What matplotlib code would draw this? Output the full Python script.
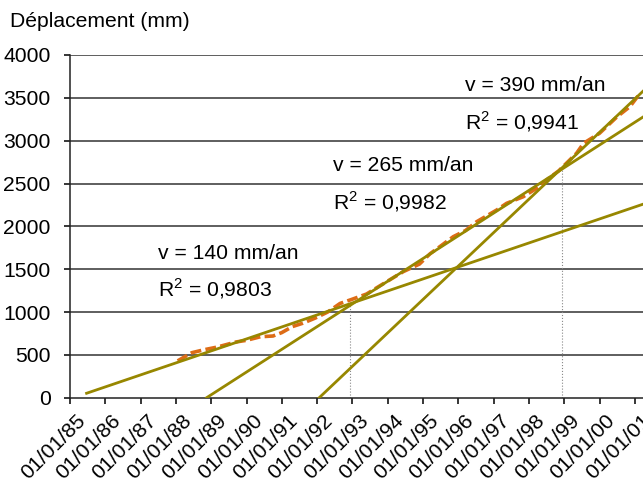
import matplotlib
matplotlib.use("Agg")
import matplotlib.pyplot as plt
import matplotlib.transforms as mtransforms
import numpy as np

plt.rcParams['font.family'] = ['Liberation Sans', 'DejaVu Sans']
plt.rcParams['mathtext.fontset'] = 'custom'
plt.rcParams['mathtext.rm'] = 'Liberation Sans'

# measured displacement (time in decimal years, displacement in mm)
measureTime = [1988.05, 1988.45, 1988.8, 1989.16, 1989.7, 1990.0, 1990.4, 1990.75, 1991.0,
               1991.3, 1991.6, 1991.95, 1992.3, 1992.65, 1993.0, 1993.4, 1993.97, 1994.44,
               1994.9, 1995.2, 1995.5, 1995.86, 1996.2, 1996.52, 1997.09, 1997.37, 1997.84,
               1998.22, 1998.5, 1998.85, 1999.35, 1999.55, 2000.0, 2000.5, 2000.86, 2001.15]
measureDisp = [430, 525, 560, 590, 650, 670, 712, 720, 760,
               830, 870, 930, 1000, 1100, 1150, 1210, 1354, 1471,
               1560, 1680, 1770, 1880, 1950, 2054, 2191, 2269, 2346,
               2444, 2541, 2650, 2853, 2970, 3086, 3280, 3397, 3553]

# linear fits: velocity (mm/an), time where fit crosses 0, start and end of drawn segment
fitSpeed = [140, 265, 390]
fitZero = [1985.1, 1988.87, 1992.06]
fitStart = [1985.47, 1988.87, 1992.06]
fitEnd = [2001.3, 2001.3, 2001.3]
fitLabels = ['v = 140 mm/an', 'v = 265 mm/an', 'v = 390 mm/an']
fitR2 = ['0,9803', '0,9982', '0,9941']
labelTime = [1987.48, 1992.46, 1996.19]
labelDisp = [1615, 2650, 3584]
r2Disp = [1179, 2203, 3133]

# breaks in slope
breakTime = [1992.94, 1998.93]
breakDisp = [1090, 2660]

years = list(range(1985, 2002))
yearLabels = ['01/01/%02d' % (y % 100) for y in years]
dispTicks = [0, 500, 1000, 1500, 2000, 2500, 3000, 3500, 4000]

fitColor = '#978700'
dataColor = '#dd6c16'
fs = 15.2

fig = plt.figure(figsize=(6.43, 4.83), dpi=100)
ax = fig.add_axes([70 / 643, 1 - 397.7 / 483, 1 - 70 / 643, (397.7 - 55) / 483])

for d in dispTicks[1:]:
    ax.axhline(d, color='#333333', linewidth=1.1, zorder=1)

for t, d in zip(breakTime, breakDisp):
    ax.plot([t, t], [0, d], color='#888888', linestyle=':', linewidth=0.8, zorder=1)

ax.plot(measureTime, measureDisp, color=dataColor, linewidth=2.6, linestyle=(0, (3, 1.2)), zorder=2)

for i in range(len(fitSpeed)):
    t = np.array([fitStart[i], fitEnd[i]])
    ax.plot(t, fitSpeed[i] * (t - fitZero[i]), color=fitColor, linewidth=2.0, zorder=3)
    ax.text(labelTime[i], labelDisp[i], fitLabels[i], fontsize=fs, va='baseline', ha='left')
    ax.text(labelTime[i], r2Disp[i], r'R$^{\mathregular{2}}$ = ' + fitR2[i], fontsize=fs,
            va='baseline', ha='left')

ax.set_xlim(1985, 1985 + (643 - 70) / 35.3)
ax.set_ylim(0, 4000)
ax.set_xticks(years)
ax.set_xticklabels(yearLabels, rotation=45, ha='right', rotation_mode='anchor', fontsize=fs)
ax.set_yticks(dispTicks)
ax.set_yticklabels([str(d) for d in dispTicks], fontsize=fs)
ax.tick_params(axis='x', direction='out', length=4, width=1.1, pad=4)
ax.tick_params(axis='y', direction='out', length=4, width=1.1, pad=10)

# labels in the original sit a bit to the right of their tick
shift = mtransforms.ScaledTranslation(6 / 100, -2 / 100, fig.dpi_scale_trans)
for lab in ax.get_xticklabels():
    lab.set_transform(lab.get_transform() + shift)

for s in ['top', 'right']:
    ax.spines[s].set_visible(False)
ax.spines['left'].set_linewidth(1.1)
ax.spines['bottom'].set_linewidth(1.1)
ax.spines['left'].set_color('#222222')
ax.spines['bottom'].set_color('#222222')

fig.text(10 / 643, 1 - 27 / 483, 'Déplacement (mm)', fontsize=fs, va='baseline', ha='left')

fig.savefig('out.png', dpi=100)
